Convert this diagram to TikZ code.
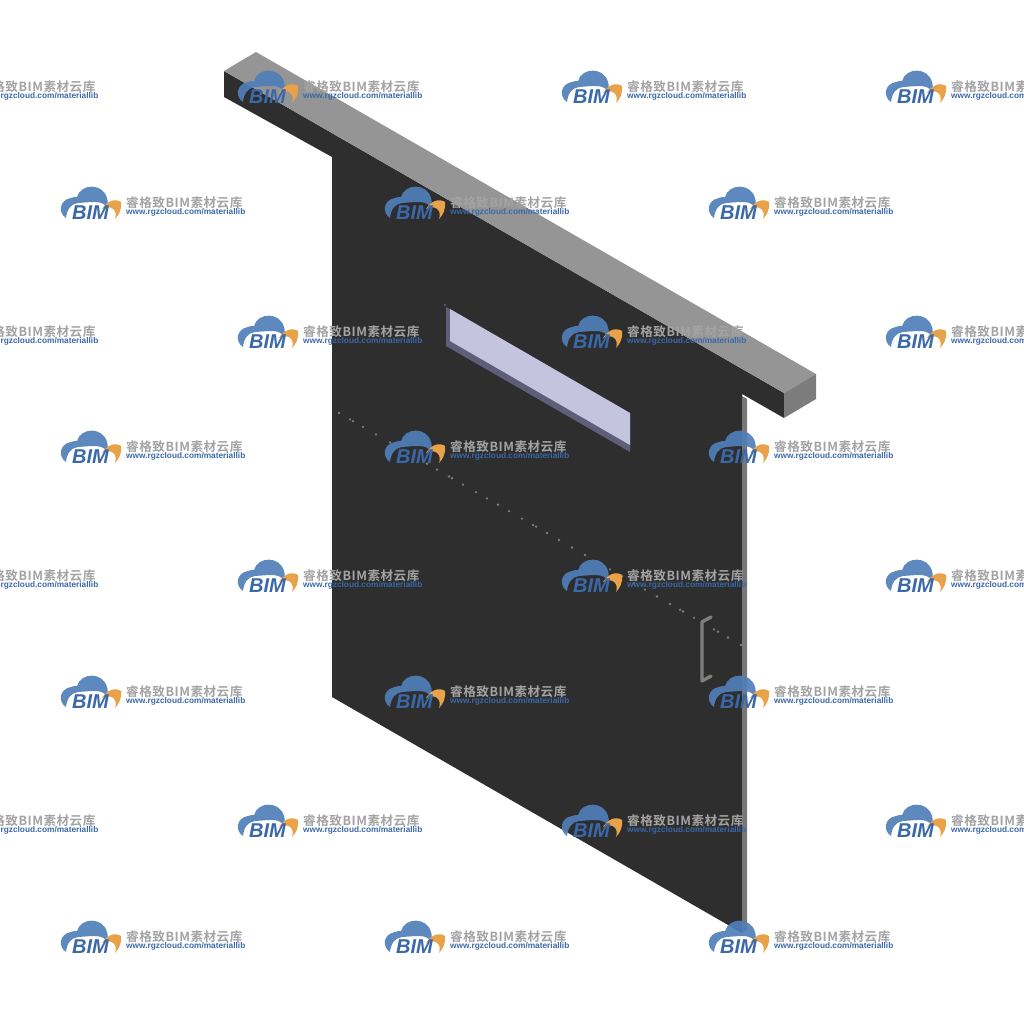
\documentclass[tikz,border=0pt]{standalone}
\usepackage{fontspec}
\setmainfont{Liberation Sans}
\newfontfamily\cjk{Noto Sans CJK SC}[BoldFont={Noto Sans CJK SC Bold},LetterSpace=4]
\usetikzlibrary{calc}
\definecolor{doordark}{HTML}{2E2E2E}
\definecolor{beamtop}{HTML}{959595}
\definecolor{beamend}{HTML}{7C7C7C}
\definecolor{edgegrey}{HTML}{777777}
\definecolor{glasslight}{HTML}{C4C4DE}
\definecolor{glassdark}{HTML}{5E5E78}
\definecolor{handlegrey}{HTML}{7E7E7E}
\definecolor{markblue}{HTML}{4F7FB8}
\definecolor{urlblue}{HTML}{3A68A8}
\definecolor{markorange}{HTML}{E8A24A}
\definecolor{markgrey}{HTML}{A3A3A3}
\tikzset{
  marktitle/.style={anchor=west,inner sep=0pt,text=markgrey,font=\cjk\bfseries\fontsize{12.6}{13}\selectfont},
  markurl/.style={anchor=west,inner sep=0pt,text=urlblue,font=\bfseries\fontsize{8.3}{8}\selectfont},
  markbim/.style={anchor=center,inner sep=0pt,text=urlblue,font=\bfseries\itshape\fontsize{20}{20}\selectfont},
  bimmark/.pic={
    % Wolke
    \fill[markblue,opacity=.92] (5,15) .. controls (-3,10) and (-2,-3) .. (10,-5)
      .. controls (12,-6) and (14,-6) .. (16,-6) .. controls (20,-20) and (42,-20) .. (46,-5)
      .. controls (47,-2) and (47,2) .. (46,5) .. controls (42,-3) and (32,-1) .. (17,0)
      .. controls (10,1) and (6,6) .. (5,15) -- cycle;
    % Bogen
    \fill[markorange] (41,6) .. controls (46,-2) and (54,-5) .. (60,-1)
      .. controls (61,6) and (58,12) .. (54,16) .. controls (57,8) and (51,1) .. (41,6) -- cycle;
    \node[markbim] (bim) at (29.5,10) {BIM};
    \node[marktitle] (title) at (65,-0.3) {睿格致BIM素材云库};
    \node[markurl] (url) at (65,9.2) {www.rgzcloud.com/materiallib};
  }
}
\begin{document}
\begin{tikzpicture}[x=1pt,y=-1pt]
  \useasboundingbox (0,0) rectangle (1024,1024);
  % Blende
  \fill[doordark] (224,71)--(784,393)--(784,418)--(742,394)--(742,400)--(332,160)--(332,157)--(224,97)--cycle;
  \fill[beamtop] (224,71)--(256,52)--(816,374)--(784,393)--cycle;
  \fill[beamend] (784,393)--(816,374)--(816,399)--(784,418)--cycle;
  % Tuerblatt
  \fill[doordark] (332,155)--(742,394)--(742,933)--(332,697)--cycle;
  \fill[edgegrey] (742,396)--(747,399)--(747,930)--(742,933)--cycle;
  % Fenster
  \fill[glassdark] (446,307)--(630,413)--(630,452)--(446,346)--cycle;
  \fill[glasslight] (450,309)--(630,413)--(630,445)--(450,341)--cycle;
  \fill[glassdark] (445,305) circle (1.2pt);
  % Griff
  \draw[handlegrey,line width=3.4pt,line cap=round,line join=round]
    (711,617)--(702,622)--(702,681)--(711,676);
  % Punkte
  \foreach \x in {339,350,353,363,376,390,403,414,427,437,449,452,463,476,487,498,509,522,533,536,547,559,572,585,597,610,622,634,645,657,670,680,683,694,714,718,728,741}
    \fill[handlegrey] (\x,{413+(\x-339)*0.5771}) circle (1.3pt);
  % Wasserzeichen
  \foreach \x in {-86,238,562,886}
    \foreach \y in {87,332,576,821}
      \pic at (\x,\y) {bimmark};
  \foreach \x in {61,385,709}
    \foreach \y in {203,447,692,937}
      \pic at (\x,\y) {bimmark};
\end{tikzpicture}
\end{document}
